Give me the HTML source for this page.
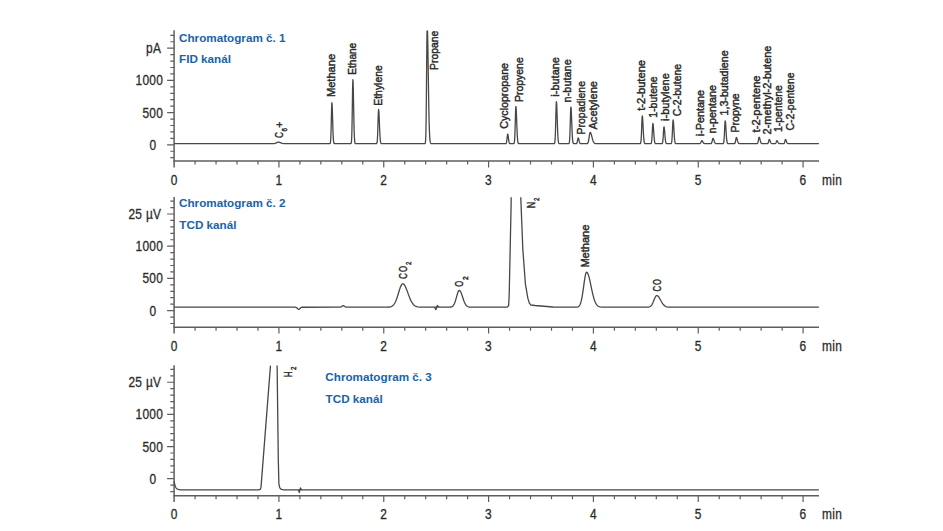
<!DOCTYPE html>
<html><head><meta charset="utf-8"><style>
html,body{margin:0;padding:0;background:#fff;}
body{width:943px;height:531px;overflow:hidden;}
svg{display:block;font-family:"Liberation Sans",sans-serif;}
</style></head><body>
<svg width="943" height="531" viewBox="0 0 943 531">
<rect width="943" height="531" fill="#fff"/>
<line x1="174.1" y1="30.3" x2="174.1" y2="167.4" stroke="#5e5e5e" stroke-width="1.5"/>
<line x1="173.4" y1="161.1" x2="819.0" y2="161.1" stroke="#5e5e5e" stroke-width="1.5"/>
<path d="M170.30 157.68H174.1M170.30 151.24H174.1M167.10 144.80H174.1M170.30 138.36H174.1M170.30 131.92H174.1M170.30 125.48H174.1M170.30 119.04H174.1M167.10 112.60H174.1M170.30 106.16H174.1M170.30 99.72H174.1M170.30 93.28H174.1M170.30 86.84H174.1M167.10 80.40H174.1M170.30 73.96H174.1M170.30 67.52H174.1M170.30 61.08H174.1M170.30 54.64H174.1M167.10 48.20H174.1M170.30 41.76H174.1M170.30 35.32H174.1" stroke="#5e5e5e" stroke-width="1.2" fill="none"/>
<path d="M195.07 161.1V164.60M216.03 161.1V164.60M237.00 161.1V164.60M257.96 161.1V164.60M278.93 161.1V167.40M299.90 161.1V164.60M320.86 161.1V164.60M341.83 161.1V164.60M362.79 161.1V164.60M383.76 161.1V167.40M404.73 161.1V164.60M425.69 161.1V164.60M446.66 161.1V164.60M467.62 161.1V164.60M488.59 161.1V167.40M509.56 161.1V164.60M530.52 161.1V164.60M551.49 161.1V164.60M572.45 161.1V164.60M593.42 161.1V167.40M614.39 161.1V164.60M635.35 161.1V164.60M656.32 161.1V164.60M677.28 161.1V164.60M698.25 161.1V167.40M719.22 161.1V164.60M740.18 161.1V164.60M761.15 161.1V164.60M782.11 161.1V164.60M803.08 161.1V167.40" stroke="#5e5e5e" stroke-width="1.2" fill="none"/>
<line x1="174.1" y1="197.0" x2="174.1" y2="333.5" stroke="#5e5e5e" stroke-width="1.5"/>
<line x1="173.4" y1="327.2" x2="819.0" y2="327.2" stroke="#5e5e5e" stroke-width="1.5"/>
<path d="M170.30 323.48H174.1M170.30 317.04H174.1M167.10 310.60H174.1M170.30 304.16H174.1M170.30 297.72H174.1M170.30 291.28H174.1M170.30 284.84H174.1M167.10 278.40H174.1M170.30 271.96H174.1M170.30 265.52H174.1M170.30 259.08H174.1M170.30 252.64H174.1M167.10 246.20H174.1M170.30 239.76H174.1M170.30 233.32H174.1M170.30 226.88H174.1M170.30 220.44H174.1M167.10 214.00H174.1M170.30 207.56H174.1M170.30 201.12H174.1" stroke="#5e5e5e" stroke-width="1.2" fill="none"/>
<path d="M195.07 327.2V330.70M216.03 327.2V330.70M237.00 327.2V330.70M257.96 327.2V330.70M278.93 327.2V333.50M299.90 327.2V330.70M320.86 327.2V330.70M341.83 327.2V330.70M362.79 327.2V330.70M383.76 327.2V333.50M404.73 327.2V330.70M425.69 327.2V330.70M446.66 327.2V330.70M467.62 327.2V330.70M488.59 327.2V333.50M509.56 327.2V330.70M530.52 327.2V330.70M551.49 327.2V330.70M572.45 327.2V330.70M593.42 327.2V333.50M614.39 327.2V330.70M635.35 327.2V330.70M656.32 327.2V330.70M677.28 327.2V330.70M698.25 327.2V333.50M719.22 327.2V330.70M740.18 327.2V330.70M761.15 327.2V330.70M782.11 327.2V330.70M803.08 327.2V333.50" stroke="#5e5e5e" stroke-width="1.2" fill="none"/>
<line x1="174.1" y1="365.3" x2="174.1" y2="502.0" stroke="#5e5e5e" stroke-width="1.5"/>
<line x1="173.4" y1="495.7" x2="819.0" y2="495.7" stroke="#5e5e5e" stroke-width="1.5"/>
<path d="M170.30 491.56H174.1M170.30 485.13H174.1M167.10 478.70H174.1M170.30 472.27H174.1M170.30 465.84H174.1M170.30 459.41H174.1M170.30 452.98H174.1M167.10 446.55H174.1M170.30 440.12H174.1M170.30 433.69H174.1M170.30 427.26H174.1M170.30 420.83H174.1M167.10 414.40H174.1M170.30 407.97H174.1M170.30 401.54H174.1M170.30 395.11H174.1M170.30 388.68H174.1M167.10 382.25H174.1M170.30 375.82H174.1M170.30 369.39H174.1" stroke="#5e5e5e" stroke-width="1.2" fill="none"/>
<path d="M195.07 495.7V499.20M216.03 495.7V499.20M237.00 495.7V499.20M257.96 495.7V499.20M278.93 495.7V502.00M299.90 495.7V499.20M320.86 495.7V499.20M341.83 495.7V499.20M362.79 495.7V499.20M383.76 495.7V502.00M404.73 495.7V499.20M425.69 495.7V499.20M446.66 495.7V499.20M467.62 495.7V499.20M488.59 495.7V502.00M509.56 495.7V499.20M530.52 495.7V499.20M551.49 495.7V499.20M572.45 495.7V499.20M593.42 495.7V502.00M614.39 495.7V499.20M635.35 495.7V499.20M656.32 495.7V499.20M677.28 495.7V499.20M698.25 495.7V502.00M719.22 495.7V499.20M740.18 495.7V499.20M761.15 495.7V499.20M782.11 495.7V499.20M803.08 495.7V502.00" stroke="#5e5e5e" stroke-width="1.2" fill="none"/>
<text transform="translate(161.30 53.00) scale(0.84 1)" text-anchor="end" font-size="14.2" letter-spacing="0.35" fill="#2b2b2b" stroke="#2b2b2b" stroke-width="0.3">pA</text>
<text transform="translate(163.20 85.10) scale(0.84 1)" text-anchor="end" font-size="14.2" letter-spacing="0.35" fill="#2b2b2b" stroke="#2b2b2b" stroke-width="0.3">1000</text>
<text transform="translate(163.20 117.60) scale(0.84 1)" text-anchor="end" font-size="14.2" letter-spacing="0.35" fill="#2b2b2b" stroke="#2b2b2b" stroke-width="0.3">500</text>
<text transform="translate(156.50 150.30) scale(0.84 1)" text-anchor="end" font-size="14.2" letter-spacing="0.35" fill="#2b2b2b" stroke="#2b2b2b" stroke-width="0.3">0</text>
<text transform="translate(174.10 184.50) scale(0.84 1)" text-anchor="middle" font-size="14.2" letter-spacing="0.35" fill="#2b2b2b" stroke="#2b2b2b" stroke-width="0.3">0</text>
<text transform="translate(278.93 184.50) scale(0.84 1)" text-anchor="middle" font-size="14.2" letter-spacing="0.35" fill="#2b2b2b" stroke="#2b2b2b" stroke-width="0.3">1</text>
<text transform="translate(383.76 184.50) scale(0.84 1)" text-anchor="middle" font-size="14.2" letter-spacing="0.35" fill="#2b2b2b" stroke="#2b2b2b" stroke-width="0.3">2</text>
<text transform="translate(488.59 184.50) scale(0.84 1)" text-anchor="middle" font-size="14.2" letter-spacing="0.35" fill="#2b2b2b" stroke="#2b2b2b" stroke-width="0.3">3</text>
<text transform="translate(593.42 184.50) scale(0.84 1)" text-anchor="middle" font-size="14.2" letter-spacing="0.35" fill="#2b2b2b" stroke="#2b2b2b" stroke-width="0.3">4</text>
<text transform="translate(698.25 184.50) scale(0.84 1)" text-anchor="middle" font-size="14.2" letter-spacing="0.35" fill="#2b2b2b" stroke="#2b2b2b" stroke-width="0.3">5</text>
<text transform="translate(803.08 184.50) scale(0.84 1)" text-anchor="middle" font-size="14.2" letter-spacing="0.35" fill="#2b2b2b" stroke="#2b2b2b" stroke-width="0.3">6</text>
<text transform="translate(822.00 184.70) scale(0.84 1)" text-anchor="start" font-size="14.2" letter-spacing="0.35" fill="#2b2b2b" stroke="#2b2b2b" stroke-width="0.3">min</text>
<text transform="translate(161.30 218.80) scale(0.84 1)" text-anchor="end" font-size="14.2" letter-spacing="0.35" fill="#2b2b2b" stroke="#2b2b2b" stroke-width="0.3">25 µV</text>
<text transform="translate(163.20 250.90) scale(0.84 1)" text-anchor="end" font-size="14.2" letter-spacing="0.35" fill="#2b2b2b" stroke="#2b2b2b" stroke-width="0.3">1000</text>
<text transform="translate(163.20 283.40) scale(0.84 1)" text-anchor="end" font-size="14.2" letter-spacing="0.35" fill="#2b2b2b" stroke="#2b2b2b" stroke-width="0.3">500</text>
<text transform="translate(156.50 316.10) scale(0.84 1)" text-anchor="end" font-size="14.2" letter-spacing="0.35" fill="#2b2b2b" stroke="#2b2b2b" stroke-width="0.3">0</text>
<text transform="translate(174.10 350.60) scale(0.84 1)" text-anchor="middle" font-size="14.2" letter-spacing="0.35" fill="#2b2b2b" stroke="#2b2b2b" stroke-width="0.3">0</text>
<text transform="translate(278.93 350.60) scale(0.84 1)" text-anchor="middle" font-size="14.2" letter-spacing="0.35" fill="#2b2b2b" stroke="#2b2b2b" stroke-width="0.3">1</text>
<text transform="translate(383.76 350.60) scale(0.84 1)" text-anchor="middle" font-size="14.2" letter-spacing="0.35" fill="#2b2b2b" stroke="#2b2b2b" stroke-width="0.3">2</text>
<text transform="translate(488.59 350.60) scale(0.84 1)" text-anchor="middle" font-size="14.2" letter-spacing="0.35" fill="#2b2b2b" stroke="#2b2b2b" stroke-width="0.3">3</text>
<text transform="translate(593.42 350.60) scale(0.84 1)" text-anchor="middle" font-size="14.2" letter-spacing="0.35" fill="#2b2b2b" stroke="#2b2b2b" stroke-width="0.3">4</text>
<text transform="translate(698.25 350.60) scale(0.84 1)" text-anchor="middle" font-size="14.2" letter-spacing="0.35" fill="#2b2b2b" stroke="#2b2b2b" stroke-width="0.3">5</text>
<text transform="translate(803.08 350.60) scale(0.84 1)" text-anchor="middle" font-size="14.2" letter-spacing="0.35" fill="#2b2b2b" stroke="#2b2b2b" stroke-width="0.3">6</text>
<text transform="translate(822.00 350.80) scale(0.84 1)" text-anchor="start" font-size="14.2" letter-spacing="0.35" fill="#2b2b2b" stroke="#2b2b2b" stroke-width="0.3">min</text>
<text transform="translate(161.30 387.05) scale(0.84 1)" text-anchor="end" font-size="14.2" letter-spacing="0.35" fill="#2b2b2b" stroke="#2b2b2b" stroke-width="0.3">25 µV</text>
<text transform="translate(163.20 419.10) scale(0.84 1)" text-anchor="end" font-size="14.2" letter-spacing="0.35" fill="#2b2b2b" stroke="#2b2b2b" stroke-width="0.3">1000</text>
<text transform="translate(163.20 451.55) scale(0.84 1)" text-anchor="end" font-size="14.2" letter-spacing="0.35" fill="#2b2b2b" stroke="#2b2b2b" stroke-width="0.3">500</text>
<text transform="translate(156.50 484.20) scale(0.84 1)" text-anchor="end" font-size="14.2" letter-spacing="0.35" fill="#2b2b2b" stroke="#2b2b2b" stroke-width="0.3">0</text>
<text transform="translate(174.10 519.10) scale(0.84 1)" text-anchor="middle" font-size="14.2" letter-spacing="0.35" fill="#2b2b2b" stroke="#2b2b2b" stroke-width="0.3">0</text>
<text transform="translate(278.93 519.10) scale(0.84 1)" text-anchor="middle" font-size="14.2" letter-spacing="0.35" fill="#2b2b2b" stroke="#2b2b2b" stroke-width="0.3">1</text>
<text transform="translate(383.76 519.10) scale(0.84 1)" text-anchor="middle" font-size="14.2" letter-spacing="0.35" fill="#2b2b2b" stroke="#2b2b2b" stroke-width="0.3">2</text>
<text transform="translate(488.59 519.10) scale(0.84 1)" text-anchor="middle" font-size="14.2" letter-spacing="0.35" fill="#2b2b2b" stroke="#2b2b2b" stroke-width="0.3">3</text>
<text transform="translate(593.42 519.10) scale(0.84 1)" text-anchor="middle" font-size="14.2" letter-spacing="0.35" fill="#2b2b2b" stroke="#2b2b2b" stroke-width="0.3">4</text>
<text transform="translate(698.25 519.10) scale(0.84 1)" text-anchor="middle" font-size="14.2" letter-spacing="0.35" fill="#2b2b2b" stroke="#2b2b2b" stroke-width="0.3">5</text>
<text transform="translate(803.08 519.10) scale(0.84 1)" text-anchor="middle" font-size="14.2" letter-spacing="0.35" fill="#2b2b2b" stroke="#2b2b2b" stroke-width="0.3">6</text>
<text transform="translate(822.00 519.30) scale(0.84 1)" text-anchor="start" font-size="14.2" letter-spacing="0.35" fill="#2b2b2b" stroke="#2b2b2b" stroke-width="0.3">min</text>
<text x="179.0" y="41.6" font-size="11.7" font-weight="bold" fill="#1a64a6">Chromatogram č. 1</text>
<text x="179.0" y="63.0" font-size="11.7" font-weight="bold" fill="#1a64a6">FID kanál</text>
<text x="179.0" y="206.7" font-size="11.7" font-weight="bold" fill="#1a64a6">Chromatogram č. 2</text>
<text x="179.3" y="228.8" font-size="11.7" font-weight="bold" fill="#1a64a6">TCD kanál</text>
<text x="325.3" y="381.3" font-size="11.7" font-weight="bold" fill="#1a64a6">Chromatogram č. 3</text>
<text x="325.6" y="402.9" font-size="11.7" font-weight="bold" fill="#1a64a6">TCD kanál</text>
<path d="M174.10 143.70L270.35 143.70L272.85 143.67L274.10 143.57L275.10 143.35L276.10 142.97L277.35 142.38L278.10 142.15L278.85 142.11L279.60 142.29L281.60 143.18L282.60 143.48L283.85 143.65L329.10 143.70L329.85 143.66L330.10 143.51L330.35 142.92L330.60 141.18L330.85 137.04L331.10 129.40L331.35 118.71L331.60 108.19L331.85 102.67L332.10 104.15L332.35 110.19L332.85 127.30L333.10 134.22L333.35 138.88L333.60 141.54L333.85 142.85L334.10 143.40L334.35 143.61L335.10 143.70L350.35 143.70L350.85 143.64L351.10 143.40L351.35 142.49L351.60 139.76L351.85 133.29L352.10 121.34L352.35 104.64L352.60 88.20L352.85 79.57L353.10 81.88L353.35 91.32L353.60 104.64L353.85 118.06L354.10 128.88L354.35 136.16L354.60 140.33L354.85 142.37L355.10 143.24L355.35 143.56L355.85 143.69L375.85 143.70L376.35 143.67L376.60 143.57L376.85 143.21L377.10 142.20L377.35 139.80L377.60 135.17L377.85 128.04L378.10 119.53L378.35 112.34L378.60 109.50L378.85 111.13L379.10 115.57L379.35 121.66L379.60 128.04L379.85 133.61L380.10 137.80L380.35 140.57L380.60 142.20L380.85 143.04L381.10 143.44L381.35 143.61L382.10 143.70L424.10 143.70L424.60 143.69L424.85 143.64L425.10 143.44L425.35 142.68L425.60 140.33L425.85 134.31L426.10 121.72L426.35 100.44L426.60 72.13L426.85 44.16L427.05 30.60M427.48 30.60L427.60 33.96L427.85 46.28L428.10 61.98L428.35 78.93L428.60 95.19L428.85 109.37L429.10 120.75L429.35 129.20L429.60 135.04L429.85 138.82L430.10 141.10L430.35 142.39L430.60 143.08L430.85 143.42L431.10 143.58L431.85 143.69L504.85 143.70L505.60 143.68L505.85 143.62L506.10 143.42L506.35 142.93L506.60 141.89L506.85 140.14L507.35 135.52L507.60 134.13L507.85 134.22L508.10 135.46L508.35 137.40L508.60 139.46L508.85 141.18L509.10 142.39L509.35 143.10L509.60 143.46L509.85 143.61L510.60 143.70L513.35 143.70L513.85 143.59L514.10 143.28L514.35 142.37L514.60 140.12L514.85 135.61L515.10 128.32L515.35 119.13L515.60 110.69L515.85 106.43L516.10 107.45L516.35 111.77L516.60 118.20L516.85 125.22L517.10 131.56L517.35 136.46L517.60 139.79L517.85 141.78L518.10 142.85L518.35 143.36L518.60 143.57L519.10 143.69L553.35 143.70L554.10 143.67L554.35 143.58L554.60 143.23L554.85 142.20L555.10 139.66L555.35 134.57L555.60 126.35L555.85 115.98L556.10 106.46L556.35 101.65L556.60 102.80L556.85 107.67L557.10 114.92L557.35 122.85L557.60 130.00L557.85 135.54L558.10 139.29L558.35 141.54L558.60 142.74L558.85 143.31L559.10 143.56L559.60 143.69L568.10 143.70L568.60 143.68L568.85 143.59L569.10 143.29L569.35 142.39L569.60 140.18L569.85 135.74L570.10 128.57L570.35 119.52L570.60 111.22L570.85 107.03L571.10 108.03L571.35 112.28L571.60 118.60L571.85 125.52L572.10 131.75L572.35 136.58L572.60 139.85L572.85 141.81L573.10 142.86L573.35 143.36L573.60 143.58L574.10 143.69L576.10 143.69L576.60 143.53L576.85 143.24L577.10 142.62L577.35 141.57L577.85 138.81L578.10 137.98L578.35 138.00L578.60 138.58L578.85 139.53L579.35 141.64L579.60 142.45L579.85 143.01L580.10 143.35L580.35 143.54L580.85 143.68L586.10 143.70L586.85 143.66L587.35 143.51L587.60 143.32L587.85 142.99L588.10 142.45L588.35 141.66L588.60 140.56L588.85 139.16L589.35 135.83L589.60 134.26L589.85 133.07L590.10 132.46L590.35 132.44L590.60 132.71L590.85 133.20L591.10 133.88L591.35 134.71L592.35 138.62L592.60 139.53L592.85 140.35L593.10 141.06L593.35 141.67L593.60 142.17L593.85 142.57L594.35 143.13L594.85 143.43L595.60 143.63L639.10 143.70L640.10 143.67L640.35 143.56L640.60 143.20L640.85 142.20L641.10 139.92L641.35 135.73L641.60 129.57L641.85 122.64L642.10 117.31L642.35 115.85L642.60 117.69L642.85 121.67L643.35 131.91L643.60 136.25L643.85 139.43L644.10 141.48L644.35 142.65L644.60 143.25L644.85 143.53L645.35 143.68L650.35 143.70L650.85 143.64L651.10 143.47L651.35 142.98L651.60 141.76L651.85 139.31L652.10 135.35L652.35 130.36L652.60 125.79L652.85 123.47L653.10 124.02L653.35 126.37L653.60 129.86L653.85 133.67L654.10 137.11L654.35 139.77L654.60 141.58L654.85 142.66L655.10 143.24L655.35 143.51L655.85 143.68L661.35 143.70L661.85 143.67L662.10 143.59L662.35 143.31L662.60 142.58L662.85 140.99L663.10 138.18L663.35 134.25L663.60 130.09L663.85 127.22L664.10 126.83L664.35 128.25L664.60 130.87L664.85 134.03L665.10 137.09L665.35 139.61L665.60 141.40L665.85 142.53L666.10 143.16L666.35 143.47L666.60 143.61L667.60 143.70L670.60 143.70L671.10 143.61L671.35 143.36L671.60 142.65L671.85 140.98L672.10 137.77L672.35 132.80L672.60 126.88L672.85 121.88L673.10 119.90L673.35 121.03L673.60 124.12L673.85 128.36L674.10 132.80L674.35 136.68L674.60 139.60L674.85 141.52L675.10 142.65L675.35 143.24L675.60 143.52L676.10 143.68L698.85 143.70L699.60 143.68L700.10 143.54L700.35 143.35L700.60 143.01L700.85 142.51L701.35 141.26L701.60 140.82L701.85 140.70L702.10 140.83L702.35 141.12L703.10 142.41L703.60 143.11L704.10 143.49L704.60 143.64L710.10 143.70L710.85 143.65L711.10 143.56L711.35 143.36L711.60 142.97L711.85 142.30L712.10 141.34L712.60 139.11L712.85 138.42L713.10 138.33L713.35 138.62L713.60 139.19L714.35 141.53L714.60 142.20L714.85 142.72L715.10 143.10L715.35 143.36L715.85 143.61L716.85 143.70L722.60 143.70L723.10 143.65L723.35 143.50L723.60 143.04L723.85 141.87L724.10 139.42L724.35 135.27L724.85 124.30L725.10 121.02L725.35 121.10L725.60 123.40L725.85 127.17L726.10 131.48L726.35 135.52L726.60 138.73L726.85 140.96L727.10 142.33L727.35 143.08L727.60 143.44L727.85 143.60L728.60 143.70L733.85 143.70L734.35 143.66L734.60 143.57L734.85 143.34L735.10 142.86L735.35 142.02L735.60 140.79L735.85 139.37L736.10 138.13L736.35 137.52L736.60 137.64L736.85 138.16L737.10 138.97L737.60 140.91L737.85 141.77L738.10 142.45L738.35 142.95L738.60 143.28L738.85 143.48L739.35 143.65L756.10 143.70L756.85 143.68L757.35 143.53L757.60 143.25L757.85 142.68L758.10 141.71L758.35 140.36L758.60 138.86L758.85 137.66L759.10 137.20L759.35 137.42L759.60 138.04L759.85 138.94L760.35 140.96L760.60 141.83L760.85 142.51L761.10 142.99L761.35 143.31L761.60 143.50L762.10 143.66L766.85 143.70L767.35 143.68L767.60 143.62L767.85 143.47L768.10 143.13L768.35 142.50L768.60 141.57L768.85 140.53L769.10 139.73L769.35 139.51L769.60 139.73L769.85 140.22L770.60 142.22L770.85 142.75L771.10 143.13L771.35 143.39L771.85 143.62L774.35 143.70L775.10 143.67L775.35 143.59L775.60 143.41L775.85 143.05L776.10 142.47L776.60 141.05L776.85 140.71L777.10 140.77L777.35 141.05L778.10 142.47L778.35 142.88L778.60 143.20L778.85 143.41L779.35 143.63L782.85 143.70L783.60 143.67L783.85 143.60L784.10 143.42L784.35 143.03L784.60 142.34L785.10 140.34L785.35 139.63L785.60 139.53L785.85 139.81L786.10 140.34L786.60 141.71L786.85 142.34L787.10 142.84L787.35 143.19L787.60 143.42L788.10 143.64L818.85 143.70" stroke="#474747" stroke-width="1.3" fill="none" stroke-linejoin="round"/>
<path d="M174.10 307.20L293.60 307.20L295.10 307.22L295.85 307.33L296.35 307.52L296.85 307.87L297.85 308.91L298.35 309.31L298.60 309.39L298.85 309.38L299.35 309.10L300.35 308.05L300.85 307.64L301.35 307.39L302.10 307.24L338.60 307.20L339.85 307.17L340.60 307.05L341.10 306.85L341.85 306.35L342.60 305.79L343.10 305.61L343.60 305.69L344.10 305.99L344.85 306.58L345.35 306.88L346.10 307.11L347.85 307.20L384.35 307.20L387.60 307.15L389.35 307.02L390.60 306.78L391.60 306.41L392.35 305.98L393.10 305.36L393.60 304.83L394.10 304.18L394.60 303.40L395.10 302.49L395.60 301.44L396.10 300.25L396.60 298.92L397.35 296.72L398.35 293.50L399.35 290.24L399.85 288.71L400.35 287.31L400.85 286.09L401.35 285.09L401.85 284.36L402.35 283.93L402.85 283.80L403.35 283.94L403.85 284.29L404.35 284.86L404.85 285.62L405.35 286.55L405.85 287.63L406.60 289.47L407.85 292.87L408.85 295.62L409.60 297.58L410.35 299.38L411.10 300.98L411.85 302.35L412.60 303.51L413.35 304.45L414.10 305.19L414.85 305.76L415.60 306.20L416.60 306.60L417.85 306.90L419.60 307.10L423.60 307.19L447.35 307.20L449.60 307.16L450.85 307.02L451.60 306.82L452.35 306.43L452.85 306.02L453.35 305.44L453.85 304.67L454.35 303.68L454.85 302.45L455.35 300.99L455.85 299.34L457.10 294.86L457.60 293.23L457.85 292.51L458.10 291.87L458.35 291.34L458.60 290.92L458.85 290.62L459.10 290.44L459.35 290.40L459.60 290.47L459.85 290.63L460.10 290.89L460.35 291.23L460.85 292.15L461.35 293.35L461.85 294.74L463.35 299.29L463.85 300.71L464.35 301.99L464.85 303.12L465.35 304.07L465.85 304.86L466.35 305.49L466.85 305.97L467.60 306.49L468.35 306.81L469.35 307.04L471.10 307.17L506.85 307.20L507.10 307.11L508.60 305.70L509.10 296.95L509.35 288.09L511.10 205.18L511.16 197.30M520.84 197.30L520.85 199.49L522.60 243.74L522.85 249.48L525.35 283.32L525.60 285.17L527.60 296.83L527.85 298.17L529.10 302.33L529.35 303.07L530.60 304.73L530.85 305.01L535.10 305.51L552.85 306.99L559.85 307.20L574.10 307.20L576.10 307.15L577.10 307.04L577.85 306.83L578.35 306.59L578.85 306.22L579.35 305.66L579.85 304.87L580.10 304.36L580.35 303.77L580.60 303.08L580.85 302.30L581.10 301.41L581.35 300.40L581.60 299.28L581.85 298.05L582.10 296.70L582.35 295.24L582.60 293.68L583.10 290.30L584.10 283.06L584.60 279.61L584.85 278.03L585.10 276.58L585.35 275.30L585.60 274.22L585.85 273.35L586.10 272.72L586.35 272.33L586.60 272.20L586.85 272.26L587.10 272.43L587.35 272.70L587.60 273.09L587.85 273.58L588.10 274.18L588.35 274.86L588.60 275.64L589.10 277.42L589.60 279.46L590.10 281.69L591.60 288.85L592.10 291.18L592.60 293.39L593.10 295.45L593.60 297.33L594.10 299.01L594.60 300.50L595.10 301.78L595.60 302.88L596.10 303.80L596.60 304.55L597.10 305.17L597.60 305.66L598.35 306.21L599.10 306.58L600.10 306.88L601.60 307.10L604.85 307.19L644.85 307.20L647.35 307.16L648.60 307.04L649.35 306.86L650.10 306.53L650.60 306.19L651.10 305.73L651.60 305.11L652.10 304.34L652.60 303.40L653.10 302.31L654.60 298.61L655.10 297.47L655.60 296.53L656.10 295.86L656.35 295.65L656.60 295.53L657.10 295.54L657.60 295.76L658.10 296.17L658.60 296.74L659.10 297.46L659.85 298.72L661.35 301.49L662.10 302.78L662.85 303.91L663.60 304.84L664.35 305.57L665.10 306.12L665.85 306.51L666.85 306.85L668.10 307.06L670.35 307.18L818.85 307.20" stroke="#474747" stroke-width="1.3" fill="none" stroke-linejoin="round"/>
<path d="M434.3 307.2L435.9 309.7L437.3 305.4L438.9 307.2" stroke="#474747" stroke-width="1.2" fill="none" stroke-linejoin="round"/>
<path d="M174.10 481.30L174.30 482.44L174.50 483.44L174.70 484.30L175.10 485.69L175.50 486.74L175.90 487.52L176.30 488.11L176.90 488.74L177.50 489.14L178.30 489.47L179.50 489.72L179.90 489.76L180.10 489.90L258.50 489.90L260.30 489.30L260.90 487.67L261.10 486.11L270.47 365.60M277.12 365.60L278.30 459.90L278.90 483.90L279.70 487.46L279.90 487.99L281.50 489.41L283.90 489.88L818.90 489.90" stroke="#474747" stroke-width="1.3" fill="none" stroke-linejoin="round"/>
<path d="M298.3 489.9L299.3 492.6L300.4 487.9L301.6 489.9" stroke="#474747" stroke-width="1.2" fill="none" stroke-linejoin="round"/>
<text transform="translate(334.80 97.10) rotate(-90) scale(0.966 1)" font-size="11.5" fill="#2b2b2b" stroke="#2b2b2b" stroke-width="0.45">Methane</text>
<text transform="translate(356.40 74.70) rotate(-90) scale(0.875 1)" font-size="11.5" fill="#2b2b2b" stroke="#2b2b2b" stroke-width="0.45">Ethane</text>
<text transform="translate(381.60 105.70) rotate(-90) scale(0.905 1)" font-size="11.5" fill="#2b2b2b" stroke="#2b2b2b" stroke-width="0.45">Ethylene</text>
<text transform="translate(437.60 69.90) rotate(-90) scale(0.899 1)" font-size="11.5" fill="#2b2b2b" stroke="#2b2b2b" stroke-width="0.45">Propane</text>
<text transform="translate(508.00 128.70) rotate(-90) scale(0.926 1)" font-size="11.5" fill="#2b2b2b" stroke="#2b2b2b" stroke-width="0.45">Cyclopropane</text>
<text transform="translate(523.40 102.10) rotate(-90) scale(0.912 1)" font-size="11.5" fill="#2b2b2b" stroke="#2b2b2b" stroke-width="0.45">Propyene</text>
<text transform="translate(558.70 96.70) rotate(-90) scale(0.955 1)" font-size="11.5" fill="#2b2b2b" stroke="#2b2b2b" stroke-width="0.45">i-butane</text>
<text transform="translate(571.40 102.40) rotate(-90) scale(0.951 1)" font-size="11.5" fill="#2b2b2b" stroke="#2b2b2b" stroke-width="0.45">n-butane</text>
<text transform="translate(584.60 134.40) rotate(-90) scale(0.908 1)" font-size="11.5" fill="#2b2b2b" stroke="#2b2b2b" stroke-width="0.45">Propadiene</text>
<text transform="translate(597.30 129.50) rotate(-90) scale(0.961 1)" font-size="11.5" fill="#2b2b2b" stroke="#2b2b2b" stroke-width="0.45">Acetylene</text>
<text transform="translate(645.40 110.80) rotate(-90) scale(0.971 1)" font-size="11.5" fill="#2b2b2b" stroke="#2b2b2b" stroke-width="0.45">t-2-butene</text>
<text transform="translate(656.60 117.70) rotate(-90) scale(0.911 1)" font-size="11.5" fill="#2b2b2b" stroke="#2b2b2b" stroke-width="0.45">1-butene</text>
<text transform="translate(668.60 120.90) rotate(-90) scale(0.959 1)" font-size="11.5" fill="#2b2b2b" stroke="#2b2b2b" stroke-width="0.45">i-butylene</text>
<text transform="translate(680.50 116.20) rotate(-90) scale(0.910 1)" font-size="11.5" fill="#2b2b2b" stroke="#2b2b2b" stroke-width="0.45">C-2-butene</text>
<text transform="translate(703.90 136.20) rotate(-90) scale(0.943 1)" font-size="11.5" fill="#2b2b2b" stroke="#2b2b2b" stroke-width="0.45">i-Pentane</text>
<text transform="translate(715.60 133.50) rotate(-90) scale(0.938 1)" font-size="11.5" fill="#2b2b2b" stroke="#2b2b2b" stroke-width="0.45">n-pentane</text>
<text transform="translate(727.60 115.40) rotate(-90) scale(0.924 1)" font-size="11.5" fill="#2b2b2b" stroke="#2b2b2b" stroke-width="0.45">1,3-butadiene</text>
<text transform="translate(738.80 132.50) rotate(-90) scale(0.917 1)" font-size="11.5" fill="#2b2b2b" stroke="#2b2b2b" stroke-width="0.45">Propyne</text>
<text transform="translate(759.50 132.40) rotate(-90) scale(0.969 1)" font-size="11.5" fill="#2b2b2b" stroke="#2b2b2b" stroke-width="0.45">t-2-pentene</text>
<text transform="translate(771.20 134.40) rotate(-90) scale(0.953 1)" font-size="11.5" fill="#2b2b2b" stroke="#2b2b2b" stroke-width="0.45">2-methyl-2-butene</text>
<text transform="translate(782.00 132.10) rotate(-90) scale(0.907 1)" font-size="11.5" fill="#2b2b2b" stroke="#2b2b2b" stroke-width="0.45">1-pentene</text>
<text transform="translate(794.00 130.40) rotate(-90) scale(0.906 1)" font-size="11.5" fill="#2b2b2b" stroke="#2b2b2b" stroke-width="0.45">C-2-pentene</text>
<text transform="translate(589.00 267.60) rotate(-90) scale(0.963 1)" font-size="11.5" fill="#2b2b2b" stroke="#2b2b2b" stroke-width="0.45">Methane</text>
<text transform="translate(406.80 278.90) rotate(-90) scale(0.694 1)" font-size="11.8" fill="#2b2b2b" stroke="#2b2b2b" stroke-width="0.45">C</text>
<text transform="translate(406.80 272.00) rotate(-90) scale(0.663 1)" font-size="11.8" fill="#2b2b2b" stroke="#2b2b2b" stroke-width="0.45">O</text>
<text transform="translate(410.90 264.90) rotate(-90) scale(0.762 1)" font-size="7.8" fill="#2b2b2b" stroke="#2b2b2b" stroke-width="0.45">2</text>
<text transform="translate(463.00 286.80) rotate(-90) scale(0.652 1)" font-size="11.8" fill="#2b2b2b" stroke="#2b2b2b" stroke-width="0.45">O</text>
<text transform="translate(467.60 279.90) rotate(-90) scale(0.855 1)" font-size="7.8" fill="#2b2b2b" stroke="#2b2b2b" stroke-width="0.45">2</text>
<text transform="translate(534.50 208.30) rotate(-90) scale(0.753 1)" font-size="11.8" fill="#2b2b2b" stroke="#2b2b2b" stroke-width="0.45">N</text>
<text transform="translate(538.60 200.90) rotate(-90) scale(0.762 1)" font-size="7.8" fill="#2b2b2b" stroke="#2b2b2b" stroke-width="0.45">2</text>
<text transform="translate(291.80 377.20) rotate(-90) scale(0.683 1)" font-size="11.8" fill="#2b2b2b" stroke="#2b2b2b" stroke-width="0.45">H</text>
<text transform="translate(295.80 370.00) rotate(-90) scale(0.785 1)" font-size="7.8" fill="#2b2b2b" stroke="#2b2b2b" stroke-width="0.45">2</text>
<text transform="translate(660.80 291.60) rotate(-90) scale(0.671 1)" font-size="11.8" fill="#2b2b2b" stroke="#2b2b2b" stroke-width="0.45">C</text>
<text transform="translate(660.80 285.00) rotate(-90) scale(0.641 1)" font-size="11.8" fill="#2b2b2b" stroke="#2b2b2b" stroke-width="0.45">O</text>
<text transform="translate(282.60 137.90) rotate(-90) scale(0.694 1)" font-size="11.8" fill="#2b2b2b" stroke="#2b2b2b" stroke-width="0.45">C</text>
<text transform="translate(286.80 131.50) rotate(-90) scale(0.809 1)" font-size="7.8" fill="#2b2b2b" stroke="#2b2b2b" stroke-width="0.45">6</text>
<text transform="translate(282.60 127.80) rotate(-90) scale(0.946 1)" font-size="11.2" fill="#2b2b2b" stroke="#2b2b2b" stroke-width="0.45">+</text>
</svg>
</body></html>
